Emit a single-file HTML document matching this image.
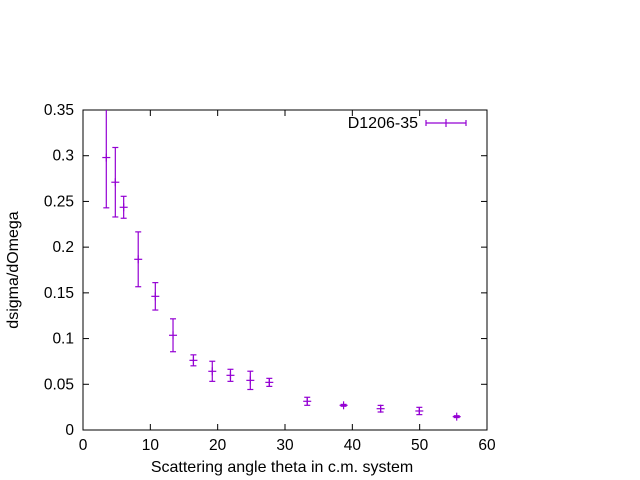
<!DOCTYPE html>
<html><head><meta charset="utf-8"><style>
body{margin:0;background:#fff;}
svg{display:block;font-family:"Liberation Sans",sans-serif;}
</style></head><body>
<svg id="chart" width="640" height="480" xmlns="http://www.w3.org/2000/svg">
<rect x="0" y="0" width="640" height="480" fill="#fff"/>
<g id="grid"></g>
<rect x="83" y="110" width="404" height="320" fill="none" stroke="#000" stroke-width="1"/>
<g id="marks"></g>
<text x="282" y="472" font-size="16" text-anchor="middle">Scattering angle theta in c.m. system</text>
<text transform="translate(18,270) rotate(-90)" font-size="16" text-anchor="middle">dsigma/dOmega</text>
<g>
<text x="418" y="128" font-size="16" text-anchor="end">D1206-35</text>
<line x1="426" y1="123" x2="466" y2="123" stroke="#9400d3" stroke-width="1.2"/>
<line x1="426" y1="120" x2="426" y2="126" stroke="#9400d3" stroke-width="1.2"/>
<line x1="466" y1="120" x2="466" y2="126" stroke="#9400d3" stroke-width="1.2"/>
<line x1="446" y1="119" x2="446" y2="127" stroke="#9400d3" stroke-width="1.2"/>
</g>
</svg>
<script>
const xVals=[3.46,4.8,6.04,8.2,10.74,13.37,16.4,19.2,21.9,24.85,27.67,33.3,38.7,44.2,49.95,55.5];
const yVals=[0.298,0.271,0.2436,0.1867,0.1462,0.1036,0.0762,0.0642,0.0598,0.0543,0.0521,0.0314,0.027,0.0233,0.0208,0.0146];
const yErrs=[0.055,0.038,0.012,0.03,0.015,0.018,0.006,0.011,0.0066,0.01,0.0044,0.0044,0.001,0.0036,0.004,0.001];
const xTicks=[0,10,20,30,40,50,60];
const yTicks=[0,0.05,0.1,0.15,0.2,0.25,0.3,0.35];
const yTickLabels=["0","0.05","0.1","0.15","0.2","0.25","0.3","0.35"];
const X0=83,X1=487,Y0=430,Y1=110,XMAX=60,YMAX=0.35;
const sx=v=>X0+v/XMAX*(X1-X0);
const sy=v=>Y0-v/YMAX*(Y0-Y1);
const NS="http://www.w3.org/2000/svg";
const grid=document.getElementById('grid'),marks=document.getElementById('marks');
function ln(p,x1,y1,x2,y2,c,w){const l=document.createElementNS(NS,'line');l.setAttribute('x1',x1);l.setAttribute('y1',y1);l.setAttribute('x2',x2);l.setAttribute('y2',y2);l.setAttribute('stroke',c);l.setAttribute('stroke-width',w||1);p.appendChild(l);return l;}
function tx(p,x,y,s,a){const t=document.createElementNS(NS,'text');t.setAttribute('x',x);t.setAttribute('y',y);t.setAttribute('font-size','15.5');t.setAttribute('text-anchor',a);t.textContent=s;p.appendChild(t);return t;}
xTicks.forEach(v=>{const x=sx(v);
ln(grid,x,Y0,x,Y0-6,'#000');ln(grid,x,Y1,x,Y1+6,'#000');
const t=tx(grid,x,450,String(v),'middle');

});
yTicks.forEach((v,i)=>{const y=sy(v);
ln(grid,X0,y,X0+6,y,'#000');ln(grid,X1,y,X1-6,y,'#000');
const t=tx(grid,74,y+5,yTickLabels[i],'end');

});
const C='#9400d3';
xVals.forEach((xv,i)=>{const g=document.createElementNS(NS,'g');


const x=sx(xv),y=sy(yVals[i]);
const top=Math.max(Y1,sy(yVals[i]+yErrs[i])),bot=Math.min(Y0,sy(yVals[i]-yErrs[i]));
ln(g,x,top,x,bot,C,1.2);
if(sy(yVals[i]+yErrs[i])>=Y1)ln(g,x-3,top,x+3,top,C,1.2);
ln(g,x-3,bot,x+3,bot,C,1.2);
ln(g,x-4,y,x+4,y,C,1.2);
ln(g,x,y-4,x,y+4,C,1.2);
marks.appendChild(g);});
</script>
</body></html>
